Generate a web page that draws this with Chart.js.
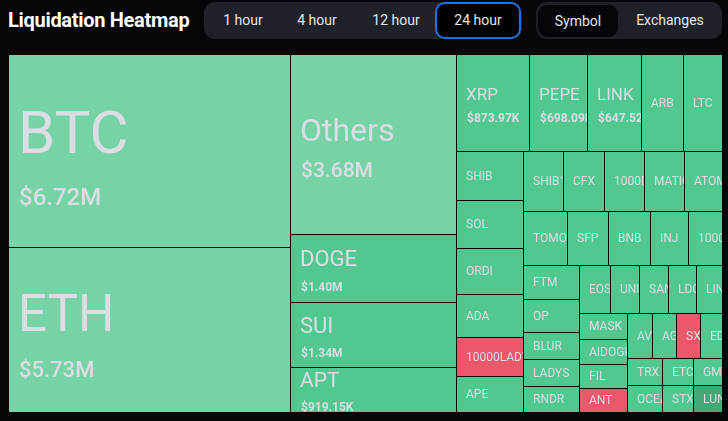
<!DOCTYPE html>
<html>
<head>
<meta charset="utf-8">
<script src="https://cdn.jsdelivr.net/npm/chart.js@4.4.0/dist/chart.umd.min.js"></script>
<style>
  html, body { margin:0; padding:0; width:728px; height:421px; overflow:hidden; background:#05060a; font-family: Roboto, "DejaVu Sans", sans-serif; }
  #title { position:absolute; left:8px; top:7px; color:#ffffff; font-weight:bold; font-size:20px; line-height:26px; letter-spacing:-0.3px; }
  .group { position:absolute; top:2px; height:37px; background:#1e2128; border-radius:11px; }
  .btn { position:absolute; top:0; height:37px; line-height:37px; color:#e4e5e8; font-size:14px; text-align:center; box-sizing:border-box; }
  .sel-blue { background:#000; border:2px solid #1b72e2; border-radius:10px; line-height:33px; }
  .sel-dark { background:#040508; border-radius:9px; }
  #wrap { position:absolute; left:8px; top:54px; width:714px; height:358px; }
</style>
</head>
<body>
<div id="title">Liquidation Heatmap</div>
<div class="group" style="left:204px;width:318px;">
  <div class="btn" style="left:0px;width:78px;">1 hour</div>
  <div class="btn" style="left:73px;width:80px;">4 hour</div>
  <div class="btn" style="left:152px;width:80px;">12 hour</div>
  <div class="btn sel-blue" style="left:231px;width:86px;">24 hour</div>
</div>
<div class="group" style="left:536px;width:186px;">
  <div class="btn sel-dark" style="left:2px;top:2.5px;width:80px;height:32.5px;line-height:32.5px;">Symbol</div>
  <div class="btn" style="left:94px;width:80px;">Exchanges</div>
</div>
<div id="wrap"><canvas id="c" width="714" height="358" style="width:714px;height:358px;"></canvas></div>
<script>
// ---- data (liquidation value, thousand USD) ----
const symbols = ['BTC','ETH','Others','DOGE','SUI','APT','XRP','PEPE','LINK','ARB','LTC',
  'SHIB','SOL','ORDI','ADA','10000LADYS','APE',
  'SHIB1000','CFX','1000BONK','MATIC','ATOM',
  'TOMO','SFP','BNB','INJ','1000FLOKI',
  'FTM','OP','BLUR','LADYS','RNDR',
  'EOS','UNI','SAND','LDO','LINA',
  'MASK','AIDOGE','FIL','ANT',
  'AVAX','AGIX','SXP','EDU',
  'TRX','OCEAN','ETC','STX','GMT','LUNC'];
const values = [6720,5730,3680,1400,1340,919.15,873.97,698.09,647.52,505,468,
  399,398,375,357,320,296,
  296,295,294,293,282,
  297,272,281,255,230,
  230,230,187,187,180,
  186,172,172,166,154,
  155,149,143,140,
  136,130,130,119,
  117,118,103,104,97,97];
// tone of each tile: L = light green, G = green, R = red, D = dark green
const tones = ['L','L','L','G','G','G','G','G','G','G','G',
  'G','G','G','G','R','G',
  'G','G','G','G','G',
  'G','G','G','G','G',
  'G','G','G','G','G',
  'G','G','G','G','G',
  'G','G','G','R',
  'G','G','R','G',
  'G','G','G','G','G','D'];
// number of tiles in each successive row of the squarified layout
const rowSizes = [2,4,5,6,5,5,5,5,4,4,2,2,1,1];

const toneColors = { L:'#76d3a5', G:'#52c891', R:'#e9596a', D:'#46a877' };

function fmtValue(v) {
  return v >= 1000 ? '$' + (v/1000).toFixed(2) + 'M' : '$' + v.toFixed(2) + 'K';
}

// squarified layout with fixed rows (d3 resquarify style), in [0,aspect] x [0,1]
function layoutRows(vals, rows, aspect) {
  let x0 = 0, y0 = 0, x1 = aspect, y1 = 1;
  let remaining = vals.reduce((a,b)=>a+b,0);
  const out = [];
  let i = 0;
  rows.forEach(n => {
    const row = vals.slice(i, i+n);
    const s = row.reduce((a,b)=>a+b,0);
    const dx = x1 - x0, dy = y1 - y0;
    if (dx < dy) {
      const h = dy * s / remaining;
      let x = x0;
      row.forEach(v => { const w = dx * v / s; out.push({x0:x, y0:y0, x1:x+w, y1:y0+h}); x += w; });
      y0 += h;
    } else {
      const w = dx * s / remaining;
      let y = y0;
      row.forEach(v => { const h = dy * v / s; out.push({x0:x0, y0:y, x1:x0+w, y1:y+h}); y += h; });
      x0 += w;
    }
    remaining -= s;
    i += n;
  });
  return out;
}

function labelStyle(v, h) {
  if (v >= 5000) { const n = Math.round(h * 0.31); return { name:n, val:Math.round(12 + n*0.2) }; }
  if (v >= 3000) return { name:32, val:21 };
  if (v >= 1000) return { name:22, val:12 };
  if (v >= 900) return { name:21, val:12 };
  if (v >= 600) return { name:17, val:12 };
  return { name:12, val:0 };
}

const treemapPlugin = {
  id: 'treemapTiles',
  afterDatasetsDraw(chart) {
    const { ctx, chartArea, scales } = chart;
    const xs = scales.x, ys = scales.y;
    const aspect = chartArea.width / chartArea.height;
    const rects = layoutRows(values, rowSizes, aspect);
    ctx.save();
    ctx.fillStyle = '#000';
    ctx.fillRect(chartArea.left, chartArea.top, chartArea.width, chartArea.height);
    rects.forEach((r, i) => {
      const px0 = Math.round(xs.getPixelForValue(r.x0 / aspect));
      const px1 = Math.round(xs.getPixelForValue(r.x1 / aspect));
      const py0 = Math.round(ys.getPixelForValue(r.y0));
      const py1 = Math.round(ys.getPixelForValue(r.y1));
      const w = px1 - px0, h = py1 - py0;
      ctx.fillStyle = toneColors[tones[i]];
      ctx.fillRect(px0 + 1, py0 + 1, w - 1, h - 1);
      // label
      ctx.save();
      ctx.beginPath();
      ctx.rect(px0 + 1, py0 + 1, w - 1, h - 1);
      ctx.clip();
      ctx.fillStyle = '#dcdde4';
      ctx.textAlign = 'left';
      ctx.textBaseline = 'alphabetic';
      const st = labelStyle(values[i], h);
      const tx = px0 + 10;
      const cy = (py0 + py1) / 2;
      if (st.val) {
        const capN = st.name * 0.71, capV = st.val * 0.71;
        const gap = st.name * 0.5 + 5;
        const blockH = capN + gap + capV;
        const top = cy - blockH / 2 + st.name * 0.12;
        ctx.font = 'normal ' + st.name + 'px Roboto, "DejaVu Sans", sans-serif';
        ctx.fillText(symbols[i], tx, top + capN);
        ctx.font = (st.val <= 12 ? 'bold ' : '500 ') + st.val + 'px Roboto, "DejaVu Sans", sans-serif';
        ctx.fillText(fmtValue(values[i]), tx + 1, top + capN + gap + capV);
      } else {
        ctx.font = 'normal ' + st.name + 'px Roboto, "DejaVu Sans", sans-serif';
        ctx.fillText(symbols[i], tx, cy + st.name * 0.71 / 2);
      }
      ctx.restore();
    });
    ctx.restore();
  }
};

new Chart(document.getElementById('c'), {
  type: 'scatter',
  data: { datasets: [{ data: [], pointRadius: 0 }] },
  options: {
    responsive: false,
    animation: false,
    layout: { padding: 0 },
    plugins: { legend: { display:false }, tooltip: { enabled:false } },
    scales: {
      x: { type:'linear', min:0, max:1, display:false },
      y: { type:'linear', min:0, max:1, reverse:true, display:false }
    }
  },
  plugins: [treemapPlugin]
});
</script>
</body>
</html>
